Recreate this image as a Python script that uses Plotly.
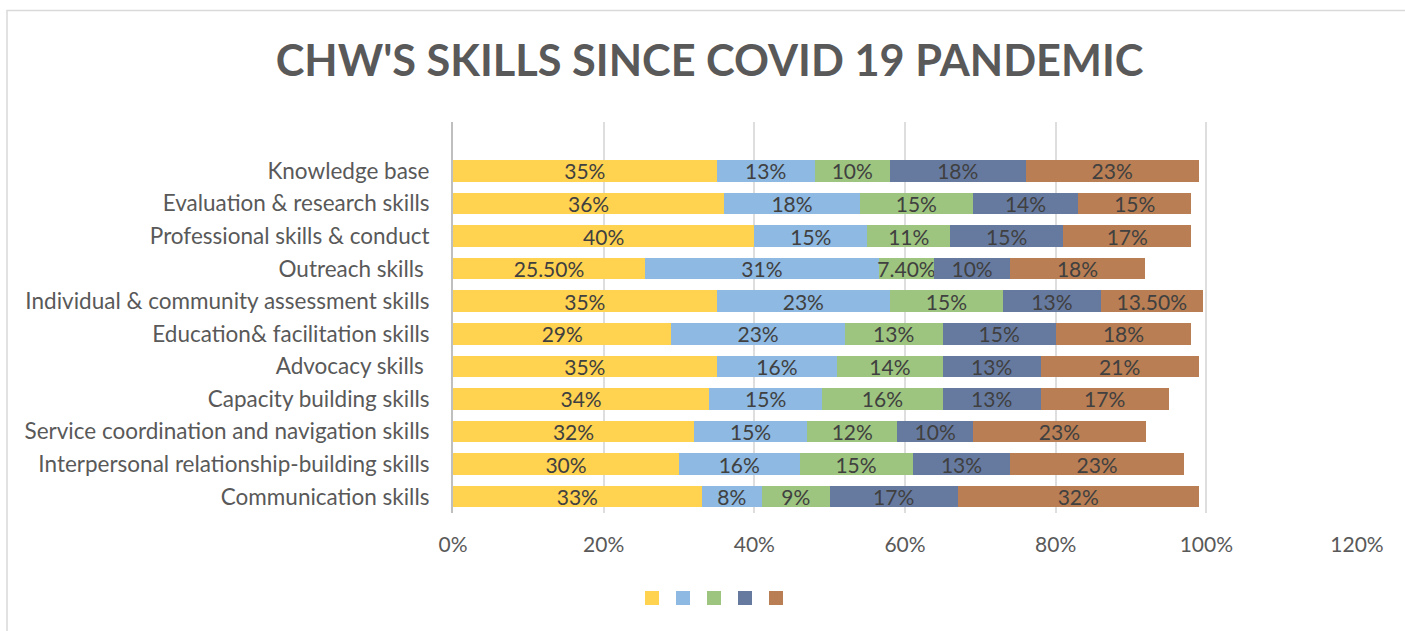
import plotly.graph_objects as go

# Skill categories, listed top to bottom as they appear on the chart
categories = [
    "Knowledge base",
    "Evaluation & research skills",
    "Professional skills & conduct",
    "Outreach skills\u00a0",
    "Individual & community assessment skills",
    "Education& facilitation skills",
    "Advocacy skills\u00a0",
    "Capacity building skills",
    "Service coordination and navigation skills",
    "Interpersonal relationship-building skills",
    "Communication skills",
]

# Percentage of responses for each of the five rating levels (same order as categories)
level_1 = [35, 36, 40, 25.5, 35, 29, 35, 34, 32, 30, 33]
level_2 = [13, 18, 15, 31, 23, 23, 16, 15, 15, 16, 8]
level_3 = [10, 15, 11, 7.4, 15, 13, 14, 16, 12, 15, 9]
level_4 = [18, 14, 15, 10, 13, 15, 13, 13, 10, 13, 17]
level_5 = [23, 15, 17, 18, 13.5, 18, 21, 17, 23, 23, 32]

series = [level_1, level_2, level_3, level_4, level_5]
colors = ["#FFD24F", "#8DB9E2", "#9DC57F", "#667AA0", "#B97E53"]

x_ticks = [0, 20, 40, 60, 80, 100, 120]
x_tick_labels = ["0%", "20%", "40%", "60%", "80%", "100%", "120%"]

FONT = "Lato"
LABEL_GRAY = "#595959"


def fmt(v):
    return f"{v:.0f}%" if float(v).is_integer() else f"{v:.2f}%"


# Plot bottom-to-top so the first category sits at the top
cats_plot = categories[::-1]

fig = go.Figure()
for vals, col in zip(series, colors):
    vals_plot = vals[::-1]
    fig.add_trace(go.Bar(
        y=list(range(len(cats_plot))),
        x=vals_plot,
        orientation="h",
        marker=dict(color=col, line=dict(width=0)),
        text=[fmt(v) for v in vals_plot],
        textposition="inside",
        insidetextanchor="middle",
        textangle=0,
        textfont=dict(family=FONT, size=21, color="#404040"),
        cliponaxis=False,
        showlegend=False,
        hoverinfo="skip",
    ))

# Legend swatches: one small square per series, centred under the plot
sw = 14
gap = 31
x_start = 652
shapes = []
for i, col in enumerate(colors):
    cx = x_start + i * gap
    shapes.append(dict(
        type="rect", xref="paper", yref="paper",
        x0=(cx - sw / 2 - 453) / 904, x1=(cx + sw / 2 - 453) / 904,
        y0=(513 - 605) / 391, y1=(513 - 591) / 391,
        fillcolor=col, line=dict(width=0),
    ))

# Outer chart border
shapes.append(dict(
    type="rect", xref="paper", yref="paper",
    x0=(7 - 453) / 904, x1=1.2,
    y0=-0.5, y1=(513 - 10.5) / 391,
    line=dict(color="#D9D9D9", width=1.5), fillcolor="rgba(0,0,0,0)",
    layer="below",
))

fig.update_layout(
    width=1405,
    height=631,
    barmode="stack",
    bargap=0.34,
    plot_bgcolor="white",
    paper_bgcolor="white",
    margin=dict(l=453, r=48, t=122, b=118),
    title=dict(
        text="<b>CHW'S SKILLS SINCE COVID 19 PANDEMIC</b>",
        x=0.505, xref="container", xanchor="center",
        y=1 - 61 / 631, yref="container", yanchor="middle",
        font=dict(family=FONT, size=43.3, color=LABEL_GRAY),
    ),
    uniformtext=dict(minsize=21, mode="show"),
    shapes=shapes,
    xaxis=dict(
        range=[0, 120],
        tickvals=x_ticks,
        ticktext=x_tick_labels,
        showgrid=True,
        gridcolor="rgba(0,0,0,0.13)",
        gridwidth=1.5,
        zeroline=False,
        showline=False,
        ticks="",
        ticklabelstandoff=17,
        tickfont=dict(family=FONT, size=21, color=LABEL_GRAY),
        layer="above traces",
        fixedrange=True,
    ),
    yaxis=dict(
        range=[-0.5, len(cats_plot) + 0.5],
        tickvals=list(range(len(cats_plot))),
        ticktext=cats_plot,
        showgrid=False,
        zeroline=False,
        showline=True,
        linecolor="#BFBFBF",
        linewidth=2,
        ticks="",
        ticklabelstandoff=17,
        tickfont=dict(family=FONT, size=22.5, color=LABEL_GRAY),
        fixedrange=True,
    ),
)

fig.write_html("out.html")
